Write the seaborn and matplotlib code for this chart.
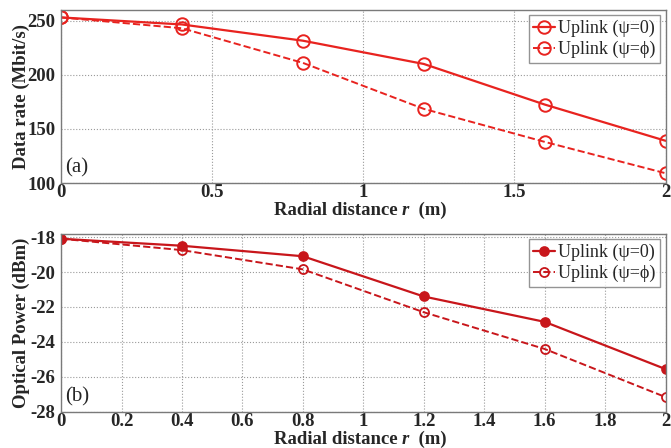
import numpy as np
import pandas as pd
import seaborn as sns
import matplotlib.pyplot as plt
from matplotlib.offsetbox import TextArea, HPacker, AnchoredOffsetbox

# Radial distance (m)
r = [0.0, 0.4, 0.8, 1.2, 1.6, 2.0]

# (a) Data rate (Mbit/s)
rate_psi0 = [253, 246.5, 231.5, 210, 172.5, 139]
rate_psiphi = [253, 243, 211, 168.5, 138, 109]

# (b) Optical power (dBm)
power_psi0 = [-18.1, -18.5, -19.1, -21.4, -22.85, -25.55]
power_psiphi = [-18.1, -18.75, -19.85, -22.3, -24.4, -27.15]

labels = ["Uplink (\u03c8=0)", "Uplink (\u03c8=\u03d5)"]

sns.set_style("whitegrid", {
    "grid.linestyle": ":",
    "grid.color": "#9a9a9a",
    "axes.edgecolor": "#7a7a7a",
    "xtick.direction": "in",
    "ytick.direction": "in",
})
plt.rcParams["font.family"] = ["Liberation Serif", "DejaVu Serif"]
plt.rcParams["axes.unicode_minus"] = False

fig = plt.figure(figsize=(6.71, 4.48), dpi=100)
ax1 = fig.add_axes([0.091, 0.5915, 0.901, 0.3865])
ax2 = fig.add_axes([0.091, 0.0804, 0.901, 0.3976])

red_a = "#e8231f"
red_b = "#c8161b"

df_a = pd.DataFrame({"r": r, "s0": rate_psi0, "s1": rate_psiphi})
sns.lineplot(data=df_a, x="r", y="s0", ax=ax1, color=red_a, lw=1.6,
             marker="o", markersize=9, markerfacecolor="none",
             markeredgecolor=red_a, markeredgewidth=1.4, label=labels[0])
sns.lineplot(data=df_a, x="r", y="s1", ax=ax1, color=red_a, lw=1.4,
             linestyle="--", marker="o", markersize=9, markerfacecolor="none",
             markeredgecolor=red_a, markeredgewidth=1.4, label=labels[1])

df_b = pd.DataFrame({"r": r, "s0": power_psi0, "s1": power_psiphi})
sns.lineplot(data=df_b, x="r", y="s0", ax=ax2, color=red_b, lw=1.6,
             marker="o", markersize=6.5, markerfacecolor=red_b,
             markeredgecolor=red_b, markeredgewidth=1.2, label=labels[0])
sns.lineplot(data=df_b, x="r", y="s1", ax=ax2, color=red_b, lw=1.4,
             linestyle="--", marker="o", markersize=6.5, markerfacecolor="none",
             markeredgecolor=red_b, markeredgewidth=1.3, label=labels[1])

ax1.set_xlim(0, 2)
ax1.set_ylim(100, 260)
ax1.set_xticks([0, 0.5, 1, 1.5, 2])
ax1.set_xticklabels(["0", "0.5", "1", "1.5", "2"])
ax1.set_yticks([100, 150, 200, 250])

ax2.set_xlim(0, 2)
ax2.set_ylim(-28, -17.82)
ax2.set_xticks(np.arange(0, 2.01, 0.2))
ax2.set_xticklabels(["0", "0.2", "0.4", "0.6", "0.8", "1", "1.2", "1.4", "1.6", "1.8", "2"])
ax2.set_yticks([-28, -26, -24, -22, -20, -18])

fs = 13.5
bold = dict(fontsize=fs, fontweight="bold")
panels = [
    (ax1, "Data rate (Mbit/s)", "(a)", -0.11),
    (ax2, "Optical Power (dBm)", "(b)", -0.107),
]
for ax, ylab, tag, xl_y in panels:
    ax.set_xlabel("")
    # x label with an italic "r"
    box = HPacker(children=[
        TextArea("Radial distance ", textprops=bold),
        TextArea("r", textprops=dict(bold, style="italic")),
        TextArea("  (m)", textprops=bold),
    ], align="baseline", pad=0, sep=0)
    anchored = AnchoredOffsetbox(loc="upper center", child=box, pad=0, borderpad=0,
                                 frameon=False, bbox_to_anchor=(0.495, xl_y),
                                 bbox_transform=ax.transAxes)
    ax.add_artist(anchored)

    ax.set_ylabel(ylab, **bold)
    ax.yaxis.set_label_coords(-0.052, 0.5)
    ax.tick_params(axis="y", labelsize=fs, pad=4, length=3, color="#7a7a7a")
    ax.tick_params(axis="x", labelsize=fs, pad=1, length=3, color="#7a7a7a")
    for lab in ax.get_xticklabels() + ax.get_yticklabels():
        lab.set_fontweight("bold")
    ax.text(0.006, 0.03, tag, transform=ax.transAxes, fontsize=15, ha="left", va="bottom")
    leg = ax.legend(loc="upper right", fontsize=13, frameon=True, fancybox=False,
                    borderpad=0.25, handlelength=1.2, handletextpad=0.2,
                    labelspacing=0.2, borderaxespad=0.3)
    leg.get_frame().set_edgecolor("#7a7a7a")
    leg.get_frame().set_linewidth(1.0)
    for sp in ax.spines.values():
        sp.set_linewidth(1.0)

fig.savefig("out.png", dpi=100)
